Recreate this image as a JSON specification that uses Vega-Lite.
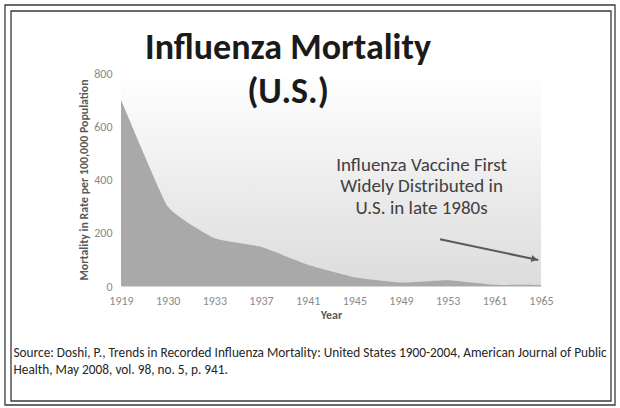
{
  "$schema": "https://vega.github.io/schema/vega-lite/v6.json",
  "width": 420,
  "height": 213,
  "autosize": {"type": "none"},
  "padding": {"left": 121, "top": 73, "right": 79, "bottom": 122},
  "background": "#ffffff",
  "config": {
    "view": {"stroke": null},
    "font": "Carlito, Lato, sans-serif"
  },
  "title": {
    "text": ["Influenza Mortality", "(U.S.)"],
    "orient": "top",
    "anchor": "middle",
    "frame": "group",
    "dx": -43,
    "offset": -107,
    "baseline": "top",
    "lineHeight": 44,
    "font": "Carlito, Lato, sans-serif",
    "fontSize": 36,
    "fontWeight": "bold",
    "color": "#1a1a1a"
  },
  "datasets": {
    "mortality": [
      {"year": "1919", "rate": 700},
      {"year": "1930", "rate": 300},
      {"year": "1933", "rate": 180},
      {"year": "1937", "rate": 147},
      {"year": "1941", "rate": 80},
      {"year": "1945", "rate": 33},
      {"year": "1949", "rate": 13},
      {"year": "1953", "rate": 22},
      {"year": "1961", "rate": 5},
      {"year": "1965", "rate": 4}
    ]
  },
  "layer": [
    {
      "data": {"values": [{"bg": 1}]},
      "mark": {
        "type": "rect",
        "color": {
          "gradient": "linear",
          "x1": 0, "y1": 0, "x2": 0, "y2": 1,
          "stops": [
            {"offset": 0, "color": "#ffffff"},
            {"offset": 1, "color": "#dcdcdc"}
          ]
        }
      },
      "encoding": {}
    },
    {
      "data": {"name": "mortality"},
      "mark": {"type": "area", "interpolate": "cardinal", "tension": 0.6, "color": "#a9a9a9", "opacity": 1},
      "encoding": {
        "x": {
          "field": "year",
          "type": "ordinal",
          "sort": null,
          "scale": {"type": "point", "padding": 0},
          "axis": {
            "title": "Year",
            "labelAngle": 0,
            "ticks": false,
            "domain": true,
            "domainColor": "#d4d4d4",
            "labelColor": "#8a8a8a",
            "labelFontSize": 12,
            "labelPadding": 9,
            "titleColor": "#595959",
            "titleFontSize": 12,
            "titleFontWeight": "bold",
            "titlePadding": 3
          }
        },
        "y": {
          "field": "rate",
          "type": "quantitative",
          "scale": {"domain": [0, 800]},
          "axis": {
            "title": "Mortality in Rate per 100,000 Population",
            "values": [0, 100, 200, 300, 400, 500, 600, 700, 800],
            "labelOverlap": false,
            "grid": false,
            "ticks": false,
            "domain": false,
            "labelColor": "#8a8a8a",
            "labelFontSize": 12,
            "labelPadding": 9,
            "titleColor": "#595959",
            "titleFontSize": 11.9,
            "titleFontWeight": "bold",
            "titlePadding": 4
          }
        }
      }
    },
    {
      "layer": [
        {
          "data": {"values": [
            {"x1": -2.486, "x2": 10.586, "y1": 1055.4, "y2": -446.9, "frame": "outer"},
            {"x1": -2.357, "x2": 10.5, "y1": 1032.9, "y2": -431.9, "frame": "inner"}
          ]},
          "mark": {"type": "rect", "filled": false, "stroke": "#3a3a3a", "strokeWidth": 1.3, "clip": false},
          "encoding": {
            "x": {
              "field": "x1",
              "type": "quantitative",
              "scale": {"domain": [0, 9], "nice": false, "zero": false},
              "axis": {
                "orient": "top",
                "labels": false,
                "ticks": false,
                "domain": false,
                "grid": false,
                "title": ["Source: Doshi, P., Trends in Recorded Influenza Mortality: United States 1900-2004, American Journal of Public", "Health, May 2008, vol. 98, no. 5, p. 941."],
                "titleX": -108,
                "titleY": 283,
                "titleAlign": "left",
                "titleAnchor": "start",
                "titleBaseline": "alphabetic",
                "titleAngle": 0,
                "titleFontSize": 13.3,
                "titleFontWeight": "normal",
                "titleColor": "#262626",
                "titleLineHeight": 17
              }
            },
            "x2": {"field": "x2"},
            "y": {"field": "y1", "type": "quantitative"},
            "y2": {"field": "y2"}
          }
        },
        {
          "data": {"values": [{"x1": 6.836, "y1": 175.4, "x2": 8.942, "y2": 97.7}]},
          "mark": {"type": "rule", "color": "#595959", "strokeWidth": 2},
          "encoding": {
            "x": {"field": "x1", "type": "quantitative"},
            "x2": {"field": "x2"},
            "y": {"field": "y1", "type": "quantitative"},
            "y2": {"field": "y2"}
          }
        },
        {
          "data": {"values": [{"x": 8.86, "y": 100.7}]},
          "mark": {"type": "point", "shape": "triangle-right", "filled": true, "color": "#595959", "size": 50, "angle": 12, "opacity": 1},
          "encoding": {
            "x": {"field": "x", "type": "quantitative"},
            "y": {"field": "y", "type": "quantitative"}
          }
        },
        {
          "data": {"values": [{"x": 6.44, "y": 433, "label": ["Influenza Vaccine First", "Widely Distributed in", "U.S. in late 1980s"]}]},
          "mark": {"type": "text", "align": "center", "baseline": "alphabetic", "fontSize": 19, "lineHeight": 21.5, "color": "#404040", "font": "Carlito, Lato, sans-serif"},
          "encoding": {
            "x": {"field": "x", "type": "quantitative"},
            "y": {"field": "y", "type": "quantitative"},
            "text": {"field": "label"}
          }
        }
      ]
    }
  ],
  "resolve": {"scale": {"x": "independent"}, "axis": {"x": "independent"}}
}
